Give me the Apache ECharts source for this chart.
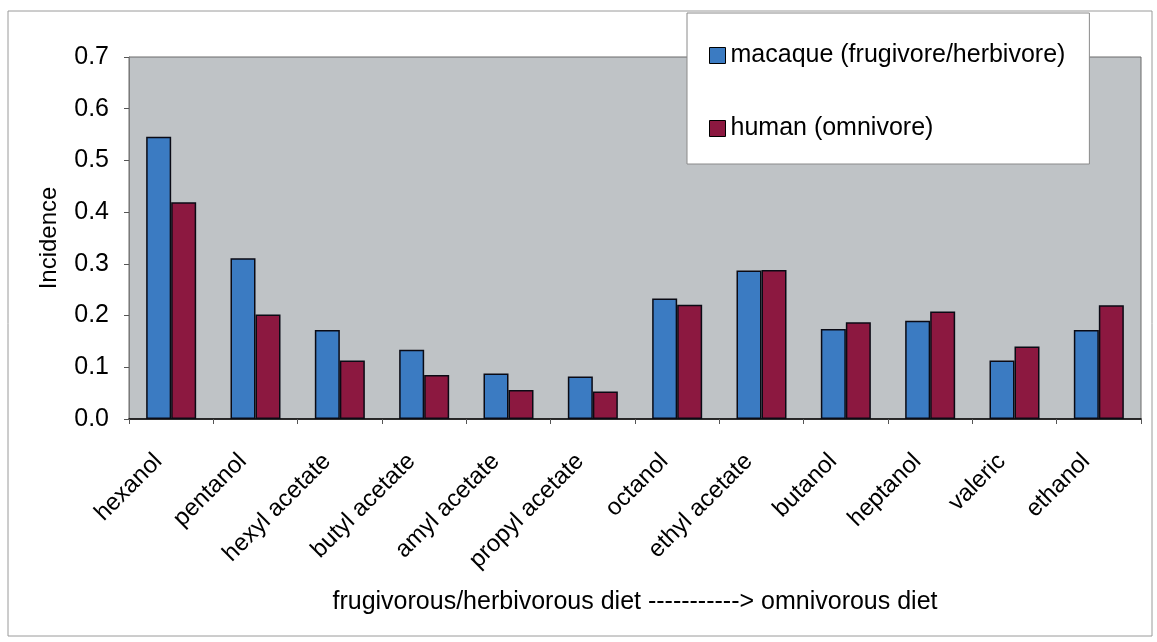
<!DOCTYPE html>
<html>
<head>
<meta charset="utf-8">
<script src="https://cdn.jsdelivr.net/npm/echarts@6/dist/echarts.min.js"></script>
<style>
  html, body { margin: 0; padding: 0; background: #fff; }
  #chart { width: 1157px; height: 642px; }
</style>
</head>
<body>
<div id="chart"></div>
<script>
// odorants, ordered from frugivorous/herbivorous to omnivorous diet
const odorants = ['hexanol', 'pentanol', 'hexyl acetate', 'butyl acetate', 'amyl acetate', 'propyl acetate',
  'octanol', 'ethyl acetate', 'butanol', 'heptanol', 'valeric', 'ethanol']
const macaque = [0.546, 0.311, 0.172, 0.134, 0.088, 0.082, 0.233, 0.287, 0.174, 0.190, 0.113, 0.172]
const human = [0.419, 0.202, 0.113, 0.085, 0.056, 0.053, 0.221, 0.288, 0.187, 0.208, 0.140, 0.220]
const seriesNames = ['macaque (frugivore/herbivore)', 'human (omnivore)']

const font = 'Liberation Sans, Arial, sans-serif'
const chart = echarts.init(document.getElementById('chart'))

chart.setOption({
  animation: false,
  textStyle: { fontFamily: font, color: '#000' },
  graphic: [{
    type: 'rect',
    shape: { x: 8, y: 11, width: 1144, height: 625 },
    style: { fill: 'none', stroke: '#9a9a9a', lineWidth: 1 },
    z: -10,
  }],
  grid: {
    left: 129, top: 57, right: 16, bottom: 223,
    show: true,
    backgroundColor: '#bfc3c6',
    borderColor: '#6a6a6a',
    borderWidth: 1,
  },
  legend: {
    orient: 'vertical',
    left: 687, top: 13,
    padding: [30, 24, 23, 22],
    itemGap: 48,
    icon: 'rect',
    itemWidth: 16, itemHeight: 16,
    itemStyle: { borderColor: '#000', borderWidth: 1 },
    backgroundColor: '#fff',
    borderColor: '#8a8a8a',
    borderWidth: 1,
    textStyle: { fontSize: 25, fontFamily: font, color: '#000' },
    data: seriesNames,
  },
  xAxis: {
    type: 'category',
    data: odorants,
    boundaryGap: true,
    name: 'frugivorous/herbivorous diet -----------> omnivorous diet',
    nameLocation: 'middle',
    nameGap: 171,
    nameTextStyle: { fontSize: 25, fontFamily: font, color: '#000' },
    axisLine: { lineStyle: { color: '#000', width: 1.5 } },
    axisTick: { show: true, length: 5, lineStyle: { color: '#555' } },
    axisLabel: { rotate: 45, fontSize: 24, margin: 26, padding: [0, 18, 0, 0], color: '#000', interval: 0 },
  },
  yAxis: {
    type: 'value',
    min: 0, max: 0.7, interval: 0.1,
    name: 'Incidence',
    nameLocation: 'middle',
    nameRotate: 90,
    nameGap: 68,
    nameTextStyle: { fontSize: 24, fontFamily: font, color: '#000' },
    axisLine: { show: true, lineStyle: { color: '#7a7a7a' } },
    axisTick: { show: true, length: 5, lineStyle: { color: '#555' } },
    axisLabel: { fontSize: 25, margin: 20, color: '#000', formatter: (v) => v.toFixed(1) },
    splitLine: { show: false },
  },
  series: [
    {
      name: seriesNames[0],
      type: 'bar',
      data: macaque,
      barWidth: 25,
      barGap: '0%',
      itemStyle: { color: '#3b7bc2', borderColor: '#0a0a14', borderWidth: 1.5 },
    },
    {
      name: seriesNames[1],
      type: 'bar',
      data: human,
      barWidth: 25,
      barGap: '0%',
      itemStyle: { color: '#8c1840', borderColor: '#0a0a14', borderWidth: 1.5 },
    },
  ],
})
</script>
</body>
</html>
